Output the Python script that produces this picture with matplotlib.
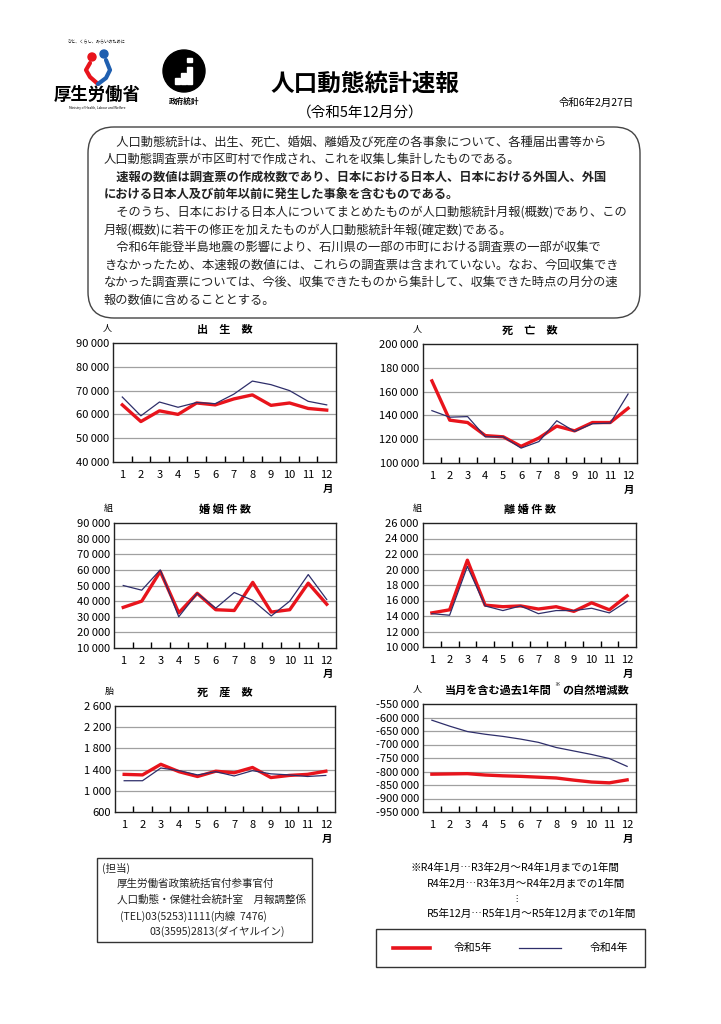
import matplotlib
matplotlib.use("Agg")
import matplotlib.pyplot as plt
from matplotlib.patches import FancyBboxPatch, Rectangle, Circle
from matplotlib.lines import Line2D
from matplotlib.ticker import FuncFormatter, FixedLocator

plt.rcParams['font.family'] = ['Noto Sans CJK JP', 'DejaVu Sans']

months = list(range(1, 13))
month_labels = [str(m) for m in months]

births_r5 = [64000, 57000, 61500, 60000, 64800, 64000, 66500, 68200, 63800, 64800, 62500, 61800]
births_r4 = [67300, 59400, 65200, 63000, 65000, 64500, 68500, 74000, 72500, 70000, 65500, 64000]

deaths_r5 = [169000, 136000, 134000, 123000, 122000, 114000, 121000, 131000, 127000, 134000, 134000, 146000]
deaths_r4 = [144000, 138500, 139000, 122000, 122000, 112500, 118000, 135500, 126500, 133000, 133500, 158000]

marriages_r5 = [36000, 40000, 59000, 32500, 45000, 34500, 34000, 52000, 33000, 34500, 51500, 38000]
marriages_r4 = [50000, 47000, 60000, 30000, 45000, 35500, 45500, 40500, 30500, 40000, 57000, 41000]

divorces_r5 = [14400, 14800, 21200, 15400, 15200, 15300, 14900, 15200, 14600, 15700, 14800, 16600]
divorces_r4 = [14300, 14100, 20400, 15300, 14700, 15300, 14300, 14700, 14700, 15000, 14400, 15900]

stillbirths_r5 = [1310, 1300, 1500, 1360, 1270, 1370, 1340, 1440, 1250, 1290, 1310, 1370]
stillbirths_r4 = [1190, 1190, 1430, 1380, 1300, 1360, 1280, 1380, 1320, 1300, 1270, 1290]

natural_r5 = [-810000, -809000, -808000, -813000, -816000, -818000, -821000, -824000, -832000, -839000, -842000, -831000]
natural_r4 = [-610000, -632000, -652000, -662000, -670000, -680000, -692000, -711000, -724000, -737000, -752000, -781000]

W, H = 721, 1024
RED = '#e8141c'
BLUE = '#2e2e6a'

fig = plt.figure(figsize=(W / 100, H / 100), dpi=100)

# page overlay in pixel coordinates
bg = fig.add_axes([0, 0, 1, 1])
bg.set_xlim(0, W)
bg.set_ylim(H, 0)
bg.axis('off')


def add_chart(left, top, right, bottom, r5, r4, yticks, title, unit, month_y):
    ax = fig.add_axes([left / W, 1 - bottom / H, (right - left) / W, (bottom - top) / H])
    for y in yticks[1:-1]:
        ax.axhline(y, color='#a0a0a0', lw=0.9, zorder=0)
    ax.plot(months, r5, color=RED, lw=2.4, zorder=2)
    ax.plot(months, r4, color=BLUE, lw=0.9, zorder=3)
    ax.set_xlim(0.5, 12.5)
    ax.set_ylim(yticks[0], yticks[-1])
    ax.yaxis.set_major_locator(FixedLocator(yticks))
    ax.yaxis.set_major_formatter(FuncFormatter(lambda v, p: f"{int(v):,}".replace(",", " ")))
    ax.set_xticks(months)
    ax.set_xticklabels(month_labels)
    ax.xaxis.set_minor_locator(FixedLocator([m + 0.5 for m in months[:-1]]))
    ax.tick_params(axis='x', which='major', length=0, pad=6, labelsize=8)
    ax.tick_params(axis='x', which='minor', length=4, direction='in', width=1)
    ax.tick_params(axis='y', length=0, pad=3, labelsize=8)
    for s in ax.spines.values():
        s.set_color('#222222')
        s.set_linewidth(1.0)
    if title:
        bg.text((left + right) / 2, top - 14, title, ha='center', va='center',
                fontsize=8, fontweight='bold')
    bg.text(left - 6, top - 15, unit, ha='center', va='center', fontsize=6.5)
    bg.text(right - 8, month_y, '月', ha='center', va='center', fontsize=7.5, fontweight='bold')
    return ax


add_chart(113, 343, 336, 462, births_r5, births_r4,
          list(range(40000, 90001, 10000)), '出　生　数', '人', 489)
add_chart(423, 344, 637, 463, deaths_r5, deaths_r4,
          list(range(100000, 200001, 20000)), '死　亡　数', '人', 490)
add_chart(114, 523, 336, 648, marriages_r5, marriages_r4,
          list(range(10000, 90001, 10000)), '婚 姻 件 数', '組', 674)
add_chart(423, 523, 636, 647, divorces_r5, divorces_r4,
          list(range(10000, 26001, 2000)), '離 婚 件 数', '組', 674)
add_chart(115, 706, 335, 812, stillbirths_r5, stillbirths_r4,
          list(range(600, 2601, 400)), '死　産　数', '胎', 839)
add_chart(423, 704, 636, 812, natural_r5, natural_r4,
          list(range(-950000, -549999, 50000)), None, '人', 839)
bg.text(552, 690, '当月を含む過去1年間', ha='right', va='center', fontsize=8, fontweight='bold')
bg.text(557, 685, '※', fontsize=4, ha='center', va='center')
bg.text(562, 690, 'の自然増減数', ha='left', va='center', fontsize=8, fontweight='bold')

# header
bg.text(96, 42, 'ひと、くらし、みらいのために', fontsize=3, ha='center', va='center')
bg.add_patch(Circle((92, 57), 4, color=RED))
bg.add_patch(Circle((104, 54), 4, color='#1f5fb0'))
bg.plot([90, 86, 90, 98], [63, 70, 77, 84], color=RED, lw=3, solid_capstyle='round')
bg.plot([106, 110, 106, 98], [60, 70, 78, 84], color='#1f5fb0', lw=3, solid_capstyle='round')
bg.text(97, 95, '厚生労働省', fontsize=12.5, fontweight='bold', ha='center', va='center')
bg.text(97, 108, 'Ministry of Health, Labour and Welfare', fontsize=2.3, ha='center', va='center')

bg.add_patch(Circle((184, 71), 21, color='black'))
for bx, bh in [(175, 6), (181, 11), (187, 17)]:
    bg.add_patch(Rectangle((bx, 84 - bh), 4.5, bh, color='white'))
bg.add_patch(Rectangle((187, 58), 4.5, 4, color='white'))
bg.text(184, 101, '政府統計', fontsize=5.5, fontweight='bold', ha='center', va='center', color='black')

bg.text(365, 84, '人口動態統計速報', fontsize=17, fontweight='bold', ha='center', va='center')
bg.text(360, 113, '（令和5年12月分）', fontsize=10.5, ha='center', va='center')
bg.text(596, 103, '令和6年2月27日', fontsize=7.5, ha='center', va='center')

# explanatory box
bg.add_patch(FancyBboxPatch((88, 127), 552, 191, boxstyle='round,pad=0,rounding_size=26',
                            fc='white', ec='#444444', lw=1.0))
para = [
    ('　人口動態統計は、出生、死亡、婚姻、離婚及び死産の各事象について、各種届出書等から', 'normal'),
    ('人口動態調査票が市区町村で作成され、これを収集し集計したものである。', 'normal'),
    ('　速報の数値は調査票の作成枚数であり、日本における日本人、日本における外国人、外国', 'bold'),
    ('における日本人及び前年以前に発生した事象を含むものである。', 'bold'),
    ('　そのうち、日本における日本人についてまとめたものが人口動態統計月報(概数)であり、この', 'normal'),
    ('月報(概数)に若干の修正を加えたものが人口動態統計年報(確定数)である。', 'normal'),
    ('　令和6年能登半島地震の影響により、石川県の一部の市町における調査票の一部が収集で', 'normal'),
    ('きなかったため、本速報の数値には、これらの調査票は含まれていない。なお、今回収集でき', 'normal'),
    ('なかった調査票については、今後、収集できたものから集計して、収集できた時点の月分の速', 'normal'),
    ('報の数値に含めることとする。', 'normal'),
]
for i, (line, w) in enumerate(para):
    bg.text(104, 142 + i * 17.6, line, fontsize=8.85, fontweight=w, va='center', ha='left',
            color='#222222')

# contact box
bg.add_patch(Rectangle((97, 858), 215, 84, fc='white', ec='#333333', lw=1.0))
contact = [
    (102, '(担当)'),
    (117, '厚生労働省政策統括官付参事官付'),
    (117, '人口動態・保健社会統計室　月報調整係'),
    (120, '(TEL)03(5253)1111(内線  7476)'),
    (150, '03(3595)2813(ダイヤルイン)'),
]
for i, (x, t) in enumerate(contact):
    bg.text(x, 868 + i * 16, t, fontsize=7.6, va='center', ha='left', color='#222222')

# note on the natural change chart
bg.text(410, 868, '※R4年1月…R3年2月～R4年1月までの1年間', fontsize=7.6, va='center', ha='left')
bg.text(427, 884, 'R4年2月…R3年3月～R4年2月までの1年間', fontsize=7.6, va='center', ha='left')
bg.text(516, 898, '⋮', fontsize=6, va='center', ha='center', family=['DejaVu Sans'])
bg.text(427, 914, 'R5年12月…R5年1月～R5年12月までの1年間', fontsize=7.6, va='center', ha='left')

# legend
bg.add_patch(Rectangle((376, 929), 269, 38, fc='white', ec='#333333', lw=1.0))
bg.add_line(Line2D([393, 430], [948, 948], color=RED, lw=2.6))
bg.text(473, 948, '令和5年', fontsize=7.8, va='center', ha='center')
bg.add_line(Line2D([519, 561], [948, 948], color=BLUE, lw=0.9))
bg.text(609, 948, '令和4年', fontsize=7.8, va='center', ha='center')

fig.savefig('out.png', dpi=100)
